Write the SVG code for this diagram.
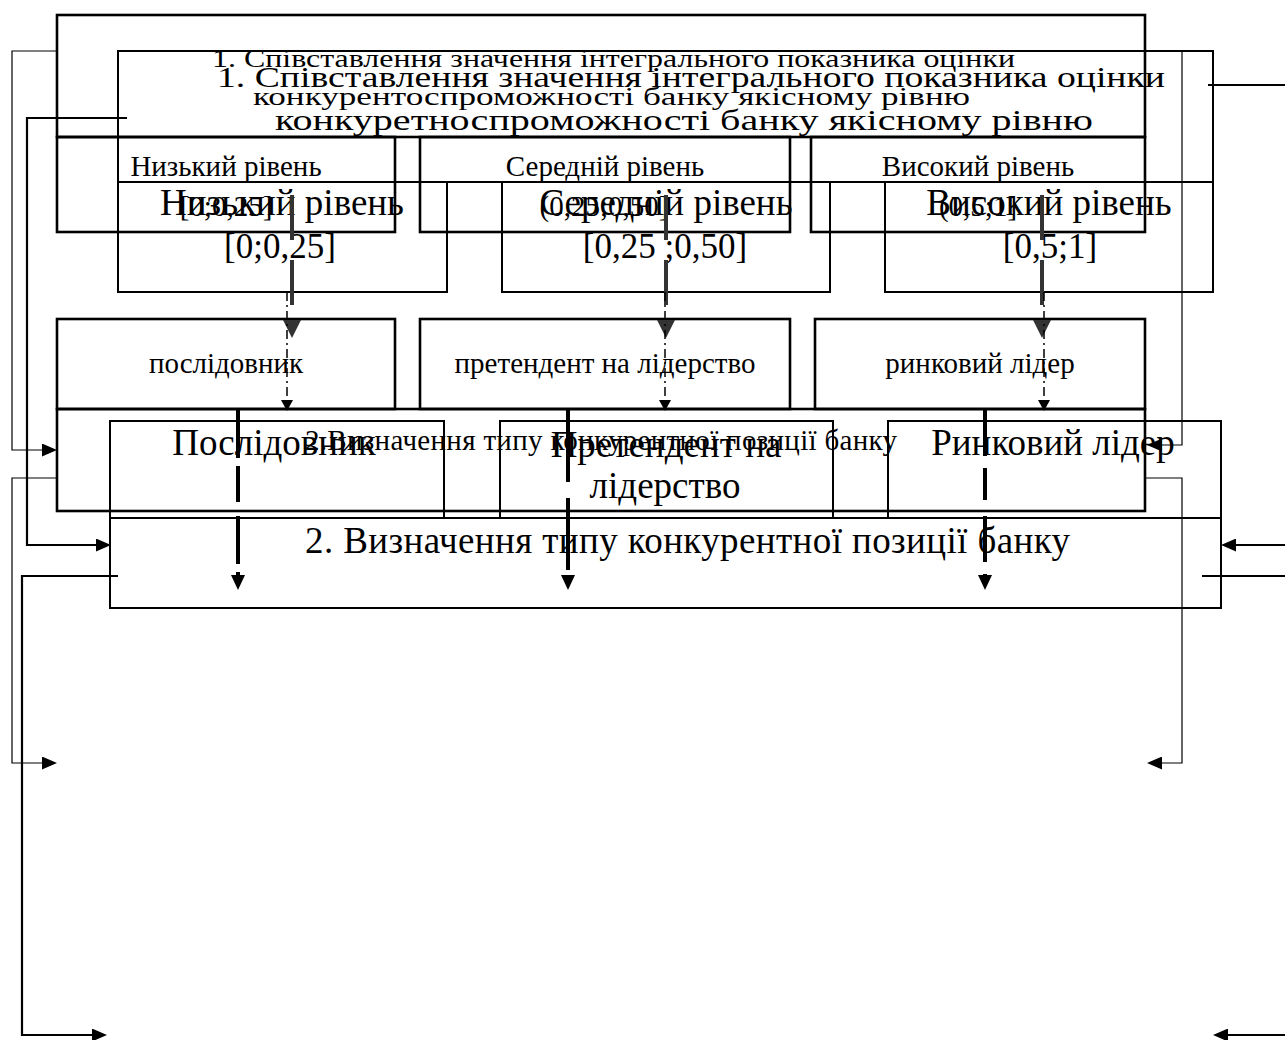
<svg xmlns="http://www.w3.org/2000/svg" width="1285" height="1040" viewBox="0 0 1285 1040">
<style>
.a{fill:none;stroke:#000;stroke-width:2.6}
.b{fill:none;stroke:#000;stroke-width:2}
.t{font-family:"Liberation Serif","Times New Roman",serif;fill:#000}
.s{font-size:29px}
.l{font-size:37px}
.lb{font-size:35px}
.ts{font-size:25px}
.tl{font-size:30px}
.thin{fill:none;stroke:#000;stroke-width:1.2}
.thick{fill:none;stroke:#000;stroke-width:2.2}
.gd{fill:none;stroke:#333;stroke-width:4;stroke-dasharray:45 20}
.dd{fill:none;stroke:#000;stroke-width:1.5;stroke-dasharray:9 4 2 4}
.bd{fill:none;stroke:#000;stroke-width:4}
</style>
<defs>
<marker id="big" viewBox="0 0 18 18" refX="0" refY="9" markerWidth="18" markerHeight="18" markerUnits="userSpaceOnUse" orient="auto"><path d="M0,0 L18,9 L0,18 z" fill="#333"/></marker>
<marker id="sm" viewBox="0 0 11 12" refX="0" refY="6" markerWidth="11" markerHeight="12" markerUnits="userSpaceOnUse" orient="auto"><path d="M0,0 L11,6 L0,12 z" fill="#000"/></marker>
<marker id="med" viewBox="0 0 15 14" refX="0" refY="7" markerWidth="15" markerHeight="14" markerUnits="userSpaceOnUse" orient="auto"><path d="M0,0 L15,7 L0,14 z" fill="#000"/></marker>
<marker id="con" viewBox="0 0 15 13" refX="0" refY="6.5" markerWidth="15" markerHeight="13" markerUnits="userSpaceOnUse" orient="auto"><path d="M0,0 L15,6.5 L0,13 z" fill="#000"/></marker>
</defs>
<rect width="1285" height="1040" fill="#fff"/>

<!-- Layer A (small text) -->
<g id="a-top">
<rect class="a" x="57" y="15" width="1088" height="122"/>
<text class="t ts" x="212" y="67" textLength="803" lengthAdjust="spacingAndGlyphs">1. Співставлення значення інтегрального показника оцінки</text>
<text class="t ts" x="253" y="105" textLength="717" lengthAdjust="spacingAndGlyphs">конкурентоспроможності банку якісному рівню</text>
</g>
<g id="a-low">
<rect class="a" x="57" y="137" width="338" height="95"/>
<text class="t s" x="226" y="176" text-anchor="middle">Низький рівень</text>
<text class="t s" x="226" y="216" text-anchor="middle">[0;0,25]</text>
</g>
<g id="a-mid">
<rect class="a" x="420" y="137" width="370" height="95"/>
<text class="t s" x="605" y="176" text-anchor="middle">Середній рівень</text>
<text class="t s" x="604" y="216" text-anchor="middle">(0,25;0,50]</text>
</g>
<g id="a-high">
<rect class="a" x="811" y="137" width="334" height="95"/>
<text class="t s" x="978" y="176" text-anchor="middle">Високий рівень</text>
<text class="t s" x="978" y="216" text-anchor="middle">(0,5;1]</text>
</g>
<g id="a-follower">
<rect class="a" x="57" y="319" width="338" height="90"/>
<text class="t s" x="226" y="373" text-anchor="middle">послідовник</text>
</g>
<g id="a-challenger">
<rect class="a" x="420" y="319" width="370" height="90"/>
<text class="t s" x="605" y="373" text-anchor="middle">претендент на лідерство</text>
</g>
<g id="a-leader">
<rect class="a" x="815" y="319" width="330" height="90"/>
<text class="t s" x="980" y="373" text-anchor="middle">ринковий лідер</text>
</g>
<g id="a-type">
<rect class="a" x="57" y="409" width="1088" height="102"/>
<text class="t s" x="305" y="450" textLength="592">2.Визначення типу конкурентної позиції банку</text>
</g>

<!-- Layer B (large text) -->
<g id="b-top">
<rect class="b" x="118" y="51" width="1095" height="131"/>
<text class="t tl" x="217" y="87" textLength="948" lengthAdjust="spacingAndGlyphs">1.  Співставлення значення інтегрального показника оцінки</text>
<text class="t tl" x="275" y="130" textLength="818" lengthAdjust="spacingAndGlyphs">конкуретноспроможності банку якісному рівню</text>
</g>
<g id="b-low">
<rect class="b" x="118" y="182" width="329" height="110"/>
<text class="t l" x="282" y="215" text-anchor="middle">Низький рівень</text>
<text class="t lb" x="280" y="258" text-anchor="middle">[0;0,25]</text>
</g>
<g id="b-mid">
<rect class="b" x="502" y="182" width="328" height="110"/>
<text class="t l" x="666" y="215" text-anchor="middle">Середній рівень</text>
<text class="t lb" x="665" y="258" text-anchor="middle">[0,25 ;0,50]</text>
</g>
<g id="b-high">
<rect class="b" x="885" y="182" width="328" height="110"/>
<text class="t l" x="1049" y="215" text-anchor="middle">Високий рівень</text>
<text class="t lb" x="1050" y="258" text-anchor="middle">[0,5;1]</text>
</g>
<g id="b-follower">
<rect class="b" x="110" y="421" width="334" height="97"/>
<text class="t l" x="274" y="455" text-anchor="middle">Послідовник</text>
</g>
<g id="b-challenger">
<rect class="b" x="500" y="421" width="333" height="97"/>
<text class="t l" x="666" y="457" text-anchor="middle">Претендент на</text>
<text class="t l" x="665" y="498" text-anchor="middle">лідерство</text>
</g>
<g id="b-leader">
<rect class="b" x="888" y="421" width="333" height="97"/>
<text class="t l" x="1053" y="455" text-anchor="middle">Ринковий лідер</text>
</g>
<g id="b-type">
<rect class="b" x="110" y="518" width="1111" height="90"/>
<text class="t l" x="305" y="553" textLength="765">2.  Визначення типу конкурентної позиції банку</text>
</g>

<!-- Connectors -->
<g id="connectors">
<path class="gd" d="M292,195 V320" marker-end="url(#big)"/>
<path class="gd" d="M666,195 V320" marker-end="url(#big)"/>
<path class="gd" d="M1042,195 V320" marker-end="url(#big)"/>
<path class="dd" d="M287,292 V400" marker-end="url(#sm)"/>
<path class="dd" d="M665,292 V400" marker-end="url(#sm)"/>
<path class="dd" d="M1044,292 V400" marker-end="url(#sm)"/>
<path class="bd" d="M238,410 V575" stroke-dasharray="48 8 36 14" marker-end="url(#med)"/>
<path class="bd" d="M568,410 V575" stroke-dasharray="72 16" marker-end="url(#med)"/>
<path class="bd" d="M985,410 V575" stroke-dasharray="46 12 32 16" marker-end="url(#med)"/>
<path class="thin" d="M57,51 H12 V450 H42" marker-end="url(#con)"/>
<path class="thin" d="M57,478 H12 V763 H42" marker-end="url(#con)"/>
<path class="thin" d="M1145,51 H1182 V445 H1162" marker-end="url(#con)"/>
<path class="thin" d="M1145,478 H1182 V763 H1162" marker-end="url(#con)"/>
<path class="thick" d="M127,118 H27 V545 H96" marker-end="url(#con)"/>
<path class="thick" d="M118,576 H22 V1035 H92" marker-end="url(#con)"/>
<path class="thick" d="M1208,85 H1285"/>
<path class="thick" d="M1285,545 H1236" marker-end="url(#con)"/>
<path class="thick" d="M1202,576 H1285"/>
<path class="thick" d="M1285,1035 H1228" marker-end="url(#con)"/>
</g>
</svg>
